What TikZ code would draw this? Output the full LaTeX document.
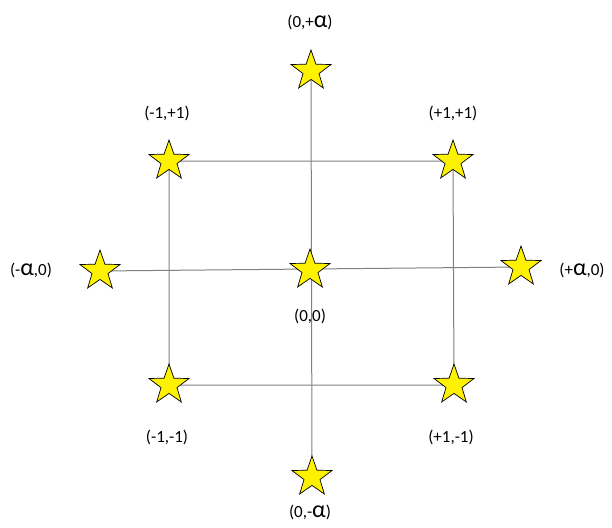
\documentclass[tikz,border=0pt]{standalone}
\usepackage{fontspec}
\setmainfont{Carlito}
\usetikzlibrary{shapes.geometric,backgrounds}
\tikzset{
  pt/.style={star, star points=5, star point ratio=2.5, minimum size=42pt, inner sep=0pt,
             draw=black, line width=0.7pt, fill=yellow},
  lbl/.style={font=\fontsize{17}{20}\selectfont, inner sep=0pt},
  grid/.style={draw=gray, line width=1pt}
}
\newcommand{\al}{{\fontsize{24}{24}\selectfont α}}
\begin{document}
\begin{tikzpicture}[x=1pt,y=-1pt]
\useasboundingbox (0,0) rectangle (612,527);
\node[pt] (c) at (310,270) {};
\node[pt] (t) at (311,71) {};
\node[pt] (b) at (312,477) {};
\node[pt] (l) at (100,271) {};
\node[pt] (r) at (521,267) {};
\node[pt] (tl) at (169,161) {};
\node[pt] (tr) at (453,161) {};
\node[pt] (bl) at (169,385) {};
\node[pt] (br) at (454,385) {};
\begin{scope}[on background layer]
\draw[grid] (t.center) -- (b.center);
\draw[grid] (l.center) -- (r.center);
\draw[grid] (tl.center) -- (tr.center) -- (br.center) -- (bl.center) -- cycle;
\end{scope}
\node[lbl] (lt) at (310,22) {(0,+\al)};
\node[lbl] (ltl) at (167,113) {(-1,+1)};
\node[lbl] (ltr) at (453,113) {(+1,+1)};
\node[lbl] (ll) at (31,270) {(-\al,0)};
\node[lbl] (lr) at (582,270) {(+\al,0)};
\node[lbl] (lc) at (310,316) {(0,0)};
\node[lbl] (lbl1) at (167,437) {(-1,-1)};
\node[lbl] (lbr) at (451,437) {(+1,-1)};
\node[lbl] (lb) at (310,512) {(0,-\al)};
\end{tikzpicture}
\end{document}
